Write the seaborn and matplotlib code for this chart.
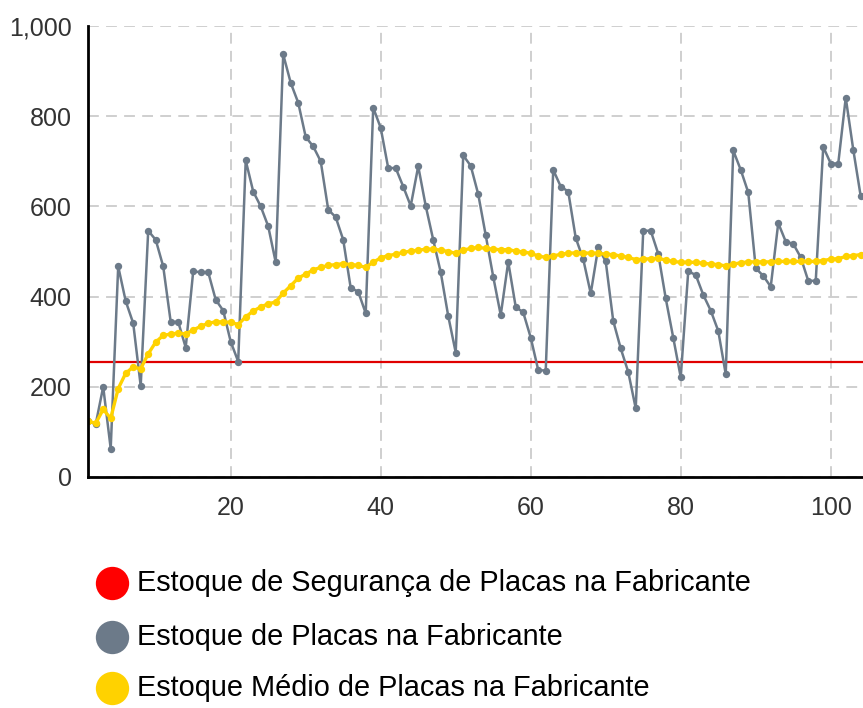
import matplotlib
matplotlib.use("Agg")
import matplotlib.pyplot as plt
import seaborn as sns
import pandas as pd
from matplotlib.lines import Line2D
from matplotlib.ticker import FuncFormatter

# Series
periods = list(range(1, 105))
estoque = [
    124, 117, 200, 63, 467, 390, 341, 202, 546, 526,
    467, 344, 344, 287, 456, 454, 454, 393, 369, 300,
    256, 702, 633, 600, 556, 476, 937, 874, 830, 754,
    733, 700, 593, 576, 526, 419, 411, 363, 819, 774,
    685, 685, 644, 601, 689, 601, 526, 454, 357, 276,
    713, 690, 627, 536, 444, 359, 477, 377, 365, 309,
    237, 236, 681, 644, 633, 530, 483, 407, 509, 478,
    346, 285, 233, 152, 546, 546, 495, 396, 309, 221,
    456, 448, 404, 369, 324, 228, 724, 681, 631, 463,
    446, 422, 563, 522, 517, 487, 435, 435, 732, 695,
    695, 841, 726, 622,
]
estoque_medio = [
    124, 119, 150, 130, 196, 230, 244, 240, 273, 299,
    314, 317, 319, 317, 326, 334, 341, 344, 344, 343,
    338, 355, 368, 377, 384, 388, 408, 424, 441, 450,
    459, 465, 469, 471, 473, 471, 469, 465, 476, 486,
    491, 494, 498, 501, 503, 505, 505, 503, 500, 496,
    503, 507, 509, 507, 505, 504, 504, 501, 499, 496,
    490, 487, 490, 494, 496, 497, 497, 496, 496, 494,
    493, 490, 487, 482, 483, 484, 485, 481, 478, 476,
    476, 476, 474, 472, 471, 468, 472, 475, 477, 477,
    477, 477, 478, 478, 478, 478, 478, 478, 480, 483,
    484, 489, 491, 493,
]
estoque_seguranca = 255

labels = [
    "Estoque de Segurança de Placas na Fabricante",
    "Estoque de Placas na Fabricante",
    "Estoque Médio de Placas na Fabricante",
]
colors = ["#ff0000", "#6c7a89", "#ffd200"]

sns.set_style("white")
plt.rcParams["font.family"] = ["Liberation Sans", "DejaVu Sans"]

df = pd.DataFrame({"periodo": periods, "estoque": estoque, "medio": estoque_medio})

fig = plt.figure(figsize=(8.63, 7.08), dpi=100)
ax = fig.add_axes([88.2 / 863, 231 / 708, 1 - 88.2 / 863, 451 / 708])

ax.axhline(estoque_seguranca, color="#e00000", linewidth=1.6, zorder=2)
sns.lineplot(data=df, x="periodo", y="estoque", ax=ax, color=colors[1],
             marker="o", markersize=5.3, markeredgewidth=0, linewidth=1.8, zorder=3)
sns.lineplot(data=df, x="periodo", y="medio", ax=ax, color=colors[2],
             marker="o", markersize=5.3, markeredgewidth=0, linewidth=2.4, zorder=4)

ax.set_xlim(1, 104.3)
ax.set_ylim(0, 1000)
ax.set_xticks([20, 40, 60, 80, 100])
ax.set_yticks(range(0, 1001, 200))
ax.yaxis.set_major_formatter(FuncFormatter(lambda v, p: f"{int(v):,}"))
ax.set_xlabel("")
ax.set_ylabel("")

ax.grid(True, color="#cccccc", linestyle=(0, (6, 4)), linewidth=1.3, zorder=0)
ax.tick_params(axis="both", colors="#c8c8c8", labelcolor="#333333",
               labelsize=18, length=7, width=1.2)
ax.tick_params(axis="y", pad=5)
ax.tick_params(axis="x", pad=7)

for side in ["top", "right"]:
    ax.spines[side].set_visible(False)
for side in ["left", "bottom"]:
    ax.spines[side].set_color("black")
    ax.spines[side].set_linewidth(2)
    ax.spines[side].set_zorder(5)

# Legend drawn by hand below the plot
legend_y = [583, 637, 688]
for lab, col, yy in zip(labels, colors, legend_y):
    fy = 1 - yy / 708
    fig.add_artist(Line2D([111.7 / 863], [fy], marker="o", markersize=24,
                          color=col, markeredgewidth=0, transform=fig.transFigure))
    fig.text(137 / 863, fy, lab, fontsize=20.8, color="black", va="center", ha="left")

fig.savefig("out.png", dpi=100)
